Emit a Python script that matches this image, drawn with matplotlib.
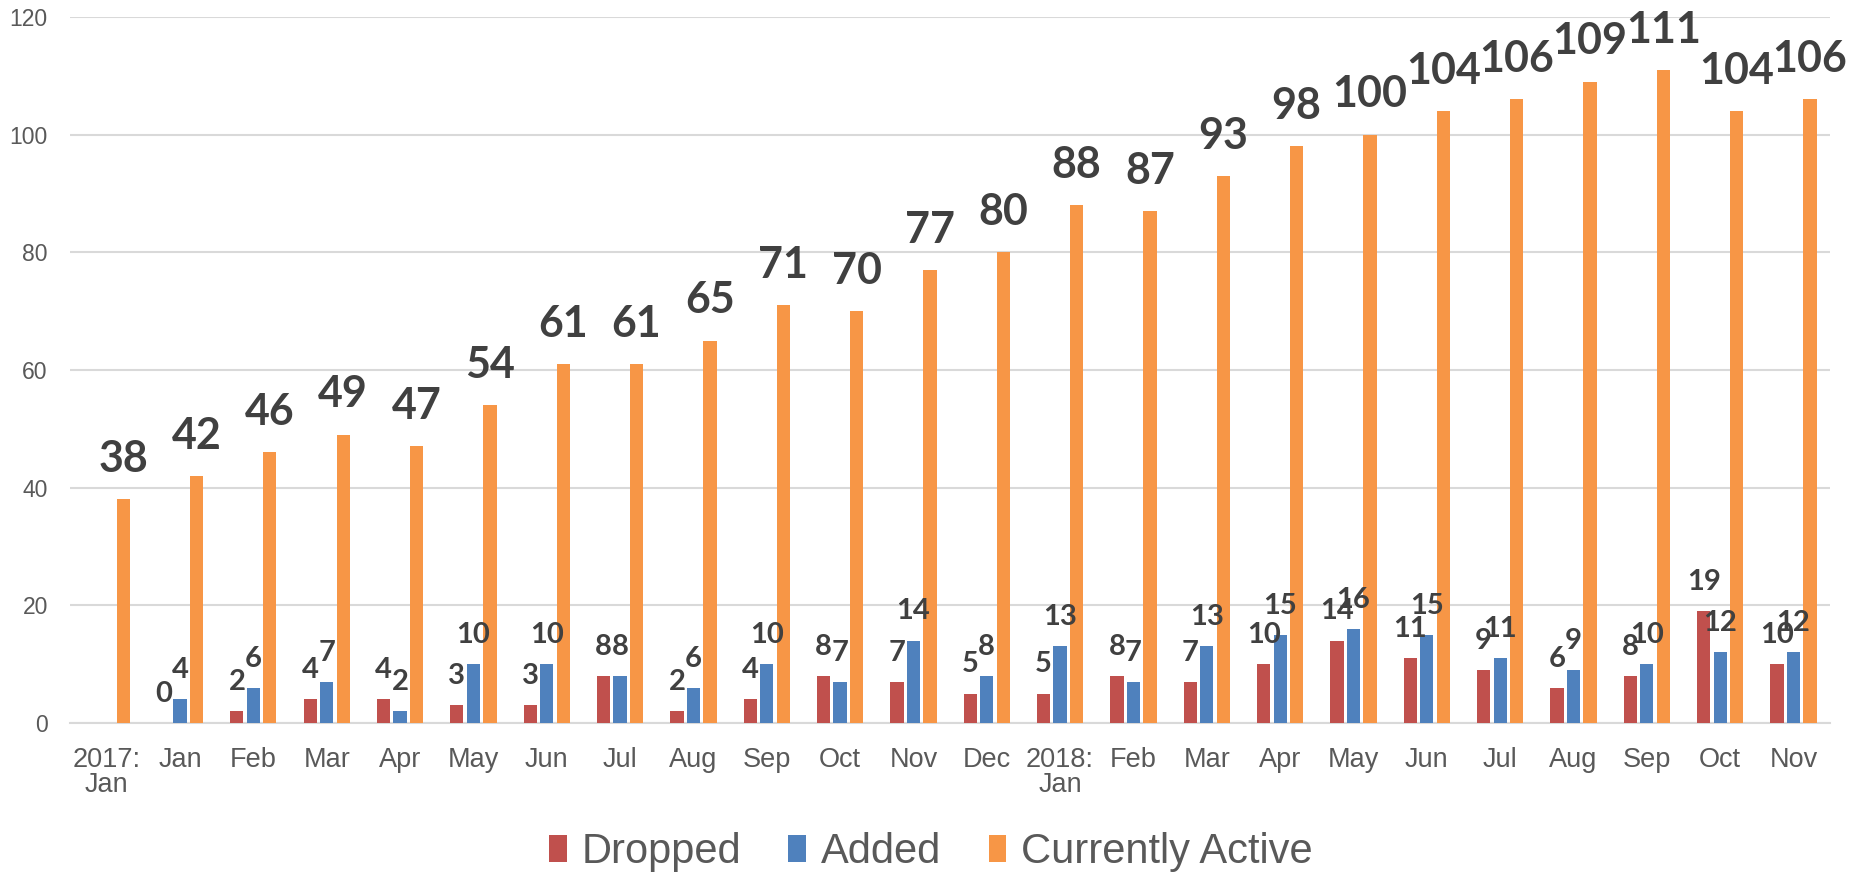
import numpy as np
from matplotlib import pyplot as plt

months = ['2017:\nJan', 'Jan', 'Feb', 'Mar', 'Apr', 'May', 'Jun', 'Jul', 'Aug', 'Sep', 'Oct', 'Nov', 'Dec',
          '2018:\nJan', 'Feb', 'Mar', 'Apr', 'May', 'Jun', 'Jul', 'Aug', 'Sep', 'Oct', 'Nov']
dropped = [np.nan, 0, 2, 4, 4, 3, 3, 8, 2, 4, 8, 7, 5, 5, 8, 7, 10, 14, 11, 9, 6, 8, 19, 10]
added = [np.nan, 4, 6, 7, 2, 10, 10, 8, 6, 10, 7, 14, 8, 13, 7, 13, 15, 16, 15, 11, 9, 10, 12, 12]
active = [38, 42, 46, 49, 47, 54, 61, 61, 65, 71, 70, 77, 80, 88, 87, 93, 98, 100, 104, 106, 109, 111, 104, 106]

RED = '#C0504D'
BLUE = '#4F81BD'
ORANGE = '#F79646'
GREY = '#595959'

fig = plt.figure(figsize=(18.58, 8.74), dpi=100)
ax = fig.add_axes([0.0377, 0.1728, 0.9473, 0.8077])

x = np.arange(len(months))
w = 0.18
off = 0.225

series = [(dropped, -off, RED, 'Dropped', 21, 21),
          (added, 0, BLUE, 'Added', 21, 21),
          (active, off, ORANGE, 'Currently Active', 31, 29)]

for vals, dx, col, name, fs, lift in series:
    v = np.array(vals, dtype=float)
    ax.bar(x + dx, np.nan_to_num(v), width=w, color=col, label=name, zorder=3)
    for xi, yi in zip(x + dx, v):
        if np.isnan(yi):
            continue
        ax.annotate(f'{int(yi)}', (xi, yi), xytext=(0, lift), textcoords='offset points',
                    ha='center', va='center', fontsize=fs, fontweight='bold',
                    family='Lato', color='#404040', zorder=5)

ax.set_xlim(-0.5, len(months) - 0.5)
ax.set_ylim(0, 120)
ax.set_yticks(range(0, 121, 20))
ax.set_xticks(x)
ax.set_xticklabels(months, linespacing=0.95)
ax.tick_params(axis='x', length=0, labelsize=19.5, colors=GREY, pad=17)
ax.tick_params(axis='y', length=0, labelsize=16.5, colors=GREY, pad=16)
for lab in ax.get_xticklabels() + ax.get_yticklabels():
    lab.set_family('Liberation Sans')

ax.yaxis.grid(True, color='#D9D9D9', lw=1.5, zorder=0)
for s in ['top', 'right', 'left']:
    ax.spines[s].set_visible(False)
ax.spines['bottom'].set_color('#D9D9D9')
ax.spines['bottom'].set_linewidth(1.5)

fig.legend(loc='center', bbox_to_anchor=(0.501, 0.025), ncol=3, frameon=False,
           prop={'family': 'Liberation Sans', 'size': 30}, labelcolor=GREY,
           handlelength=0.43, handleheight=0.62, handletextpad=0.36, columnspacing=1.13,
           borderpad=0, borderaxespad=0)

fig.savefig('out.png', dpi=100)
